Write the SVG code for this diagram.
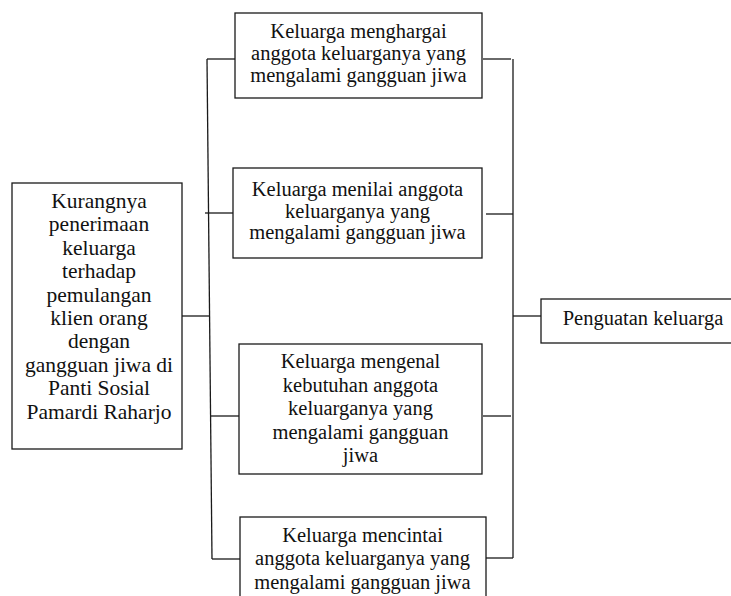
<svg xmlns="http://www.w3.org/2000/svg" width="731" height="596" viewBox="0 0 731 596">
  <style>
    .box { fill: #ffffff; stroke: #1a1a1a; stroke-width: 1.3; }
    .lbl { font-family: "Liberation Serif", "Times New Roman", serif; font-size: 20.5px; fill: #111111; text-anchor: middle; }
    .big { font-size: 21.5px; }
    .conn line { stroke: #1a1a1a; stroke-width: 1.3; }
  </style>
  <rect width="731" height="596" fill="#ffffff"/>
  <g id="connectors" class="conn">
    <line x1="207" y1="59" x2="212" y2="559"/>
    <line x1="207" y1="59" x2="235" y2="59"/>
    <line x1="205" y1="213" x2="233" y2="213"/>
    <line x1="182" y1="316" x2="209" y2="316"/>
    <line x1="211" y1="416" x2="239" y2="416"/>
    <line x1="212" y1="559" x2="240" y2="559"/>
    <line x1="513" y1="59" x2="513" y2="558"/>
    <line x1="483" y1="59" x2="511" y2="59"/>
    <line x1="486" y1="214" x2="513" y2="214"/>
    <line x1="483" y1="416" x2="511" y2="416"/>
    <line x1="486" y1="558" x2="513" y2="558"/>
    <line x1="513" y1="316" x2="541" y2="316"/>
  </g>
  <g id="node-problem">
    <rect class="box" x="12" y="183" width="170" height="266"/>
    <text class="lbl big" x="99" y="208">Kurangnya</text>
    <text class="lbl big" x="99" y="231.4">penerimaan</text>
    <text class="lbl big" x="99" y="254.8">keluarga</text>
    <text class="lbl big" x="99" y="278.2">terhadap</text>
    <text class="lbl big" x="99" y="301.6">pemulangan</text>
    <text class="lbl big" x="99" y="325">klien orang</text>
    <text class="lbl big" x="99" y="348.4">dengan</text>
    <text class="lbl big" x="99" y="371.8">gangguan jiwa di</text>
    <text class="lbl big" x="99" y="395.2">Panti Sosial</text>
    <text class="lbl big" x="99" y="418.6">Pamardi Raharjo</text>
  </g>
  <g id="node-menghargai">
    <rect class="box" x="235" y="13" width="247" height="85"/>
    <text class="lbl" x="358.5" y="38">Keluarga menghargai</text>
    <text class="lbl" x="358.5" y="60">anggota keluarganya yang</text>
    <text class="lbl" x="358.5" y="82">mengalami gangguan jiwa</text>
  </g>
  <g id="node-menilai">
    <rect class="box" x="233" y="168" width="249" height="90"/>
    <text class="lbl" x="357.5" y="196">Keluarga menilai anggota</text>
    <text class="lbl" x="357.5" y="217.5">keluarganya yang</text>
    <text class="lbl" x="357.5" y="239">mengalami gangguan jiwa</text>
  </g>
  <g id="node-mengenal">
    <rect class="box" x="239" y="344" width="243" height="130"/>
    <text class="lbl" x="360.5" y="368">Keluarga mengenal</text>
    <text class="lbl" x="360.5" y="391.5">kebutuhan anggota</text>
    <text class="lbl" x="360.5" y="415">keluarganya yang</text>
    <text class="lbl" x="360.5" y="438.5">mengalami gangguan</text>
    <text class="lbl" x="360.5" y="462">jiwa</text>
  </g>
  <g id="node-mencintai">
    <rect class="box" x="240" y="517" width="246" height="95"/>
    <text class="lbl" x="362.5" y="541.5">Keluarga mencintai</text>
    <text class="lbl" x="362.5" y="565">anggota keluarganya yang</text>
    <text class="lbl" x="362.5" y="588.5">mengalami gangguan jiwa</text>
  </g>
  <g id="node-penguatan">
    <rect class="box" x="541" y="299" width="205" height="44"/>
    <text class="lbl" x="643" y="325">Penguatan keluarga</text>
  </g>
</svg>
